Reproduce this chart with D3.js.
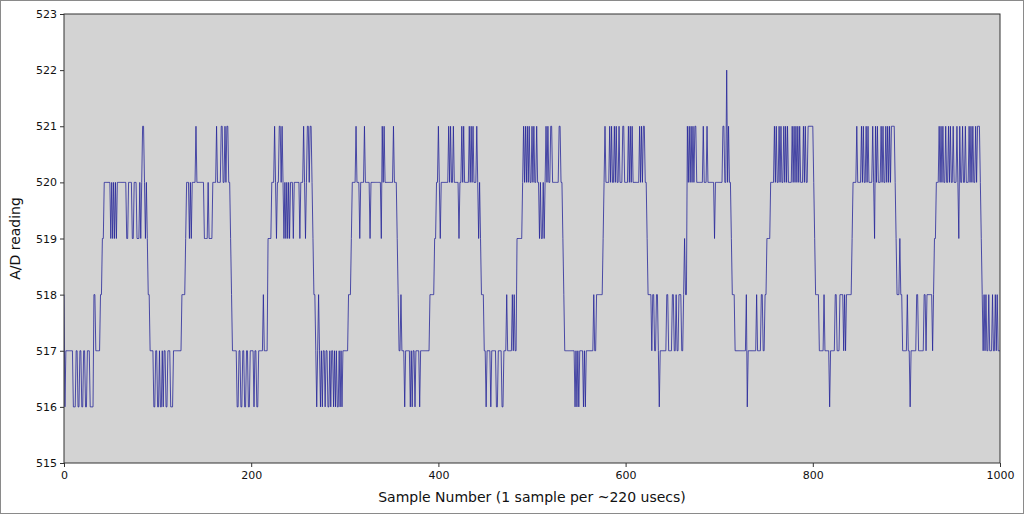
<!DOCTYPE html>
<html>
<head>
<meta charset="utf-8">
<script src="https://cdn.jsdelivr.net/npm/d3@7/dist/d3.min.js"></script>
<style>
  html, body { margin: 0; padding: 0; background: #fff; }
  svg { display: block; }
  text { font-family: "DejaVu Sans", sans-serif; }
</style>
</head>
<body>
<svg id="chart" width="1024" height="514"></svg>
<script>
// A/D readings as runs of [reading, number of consecutive samples]
const readingRuns = [
  [518,1],[516,1],[517,8],[516,3],[517,2],[516,2],[517,2],[516,2],[517,2],[516,2],[517,3],[516,4],
  [518,2],[517,5],[518,2],[519,2],[520,7],[519,1],[520,1],[519,1],[520,1],[519,1],[520,1],[519,1],
  [520,10],[519,2],[520,4],[519,2],[520,3],[519,3],[520,1],[519,1],[520,1],[521,2],[520,1],[519,1],
  [520,1],[519,1],[518,2],[517,4],[516,2],[517,2],[516,2],[517,1],[516,2],[517,1],[516,1],[517,2],
  [516,2],[517,3],[516,3],[517,9],[518,4],[519,1],[520,3],[519,1],[520,1],[519,1],[520,4],[521,1],
  [520,8],[519,4],[520,1],[519,4],[520,4],[521,1],[520,4],[521,2],[520,2],[521,1],[520,1],[521,2],
  [520,2],[519,1],[518,1],[517,5],[516,2],[517,2],[516,2],[517,2],[516,2],[517,2],[516,2],[517,4],
  [516,1],[517,2],[516,2],[517,5],[518,1],[517,4],[519,4],[520,3],[521,1],[520,1],[519,1],[520,2],
  [521,2],[520,1],[521,1],[520,1],[519,1],[520,1],[519,1],[520,1],[519,1],[520,1],[519,1],[520,3],
  [519,1],[520,6],[519,1],[520,3],[521,1],[520,1],[519,1],[520,1],[521,2],[520,1],[521,2],[520,1],
  [519,1],[518,2],[517,1],[516,1],[517,1],[518,1],[517,1],[516,1],[517,1],[516,1],[517,2],[516,1],
  [517,2],[516,2],[517,1],[516,1],[517,2],[516,1],[517,1],[516,1],[517,1],[516,2],[517,1],[516,1],
  [517,1],[516,1],[517,6],[518,3],[519,1],[520,4],[521,1],[520,3],[519,1],[520,4],[521,1],[520,5],
  [519,1],[520,11],[519,1],[521,1],[520,1],[521,1],[520,9],[521,1],[520,3],[519,1],[518,1],[517,2],
  [518,1],[517,3],[516,1],[517,5],[516,1],[517,1],[516,1],[517,2],[516,1],[517,4],[516,1],[517,10],
  [518,5],[519,2],[520,2],[521,1],[520,1],[519,1],[520,8],[521,1],[520,1],[521,1],[520,2],[521,1],
  [520,5],[519,1],[520,2],[521,1],[520,1],[521,1],[520,5],[521,1],[520,1],[521,1],[520,1],[521,1],
  [520,3],[521,1],[520,1],[519,1],[520,1],[519,1],[518,3],[517,2],[516,1],[517,4],[516,1],[517,5],
  [516,2],[517,4],[516,2],[517,3],[518,1],[517,5],[518,1],[517,1],[518,1],[517,2],[519,6],[520,1],
  [521,1],[520,1],[521,1],[520,1],[521,1],[520,1],[521,1],[520,2],[521,1],[520,1],[521,1],[520,2],
  [521,1],[520,2],[519,1],[520,1],[519,2],[520,1],[519,1],[520,1],[521,1],[520,1],[521,1],[520,2],
  [521,2],[520,7],[521,2],[520,2],[519,1],[518,1],[517,11],[516,1],[517,1],[516,1],[517,1],[516,1],
  [517,4],[516,1],[517,1],[516,1],[517,8],[518,1],[517,2],[518,7],[519,1],[520,1],[521,1],[520,4],
  [521,1],[520,1],[521,1],[520,2],[521,1],[520,1],[521,1],[520,2],[521,1],[520,3],[521,2],[520,4],
  [521,1],[520,1],[521,1],[520,1],[521,1],[520,7],[521,1],[520,1],[521,1],[520,1],[521,2],[520,2],
  [519,1],[518,4],[517,1],[518,2],[517,2],[518,2],[517,1],[516,1],[517,7],[518,2],[517,4],[518,2],
  [517,2],[518,1],[517,2],[518,3],[517,2],[518,1],[519,1],[518,2],[521,1],[520,1],[521,1],[520,1],
  [521,1],[520,1],[521,1],[520,1],[521,2],[520,7],[521,1],[520,3],[521,1],[520,7],[519,1],[520,8],
  [521,2],[520,2],[522,1],[520,1],[521,1],[520,2],[519,1],[518,3],[517,12],[518,1],[516,1],[517,9],
  [518,1],[517,4],[518,2],[517,2],[518,2],[519,4],[520,4],[521,1],[520,1],[521,1],[520,2],[521,1],
  [520,1],[521,1],[520,2],[521,1],[520,1],[521,1],[520,1],[521,1],[520,4],[521,1],[520,1],[521,1],
  [520,1],[521,1],[520,1],[521,1],[520,1],[521,1],[520,3],[521,1],[520,1],[521,1],[520,2],[521,6],
  [520,1],[519,1],[518,4],[517,5],[518,1],[517,5],[516,1],[517,5],[518,2],[517,3],[518,4],[517,1],
  [518,1],[517,1],[518,6],[519,1],[520,4],[521,1],[520,4],[521,1],[520,1],[521,1],[520,2],[521,1],
  [520,1],[521,1],[520,4],[521,1],[520,1],[519,1],[521,1],[520,1],[521,1],[520,3],[521,1],[520,1],
  [521,1],[520,2],[521,1],[520,1],[521,1],[520,1],[521,1],[520,1],[521,4],[520,1],[519,1],[518,3],
  [519,1],[518,2],[517,5],[518,1],[517,2],[516,1],[517,6],[518,2],[517,6],[518,2],[517,1],[518,6],
  [517,1],[518,1],[519,2],[520,3],[521,1],[520,1],[521,1],[520,1],[521,1],[520,2],[521,1],[520,2],
  [521,1],[520,1],[521,1],[520,2],[521,1],[520,3],[521,1],[520,1],[519,1],[521,1],[520,2],[521,1],
  [520,2],[521,1],[520,3],[521,1],[520,1],[521,1],[520,1],[521,1],[520,2],[521,1],[520,1],[521,3],
  [520,1],[519,1],[518,1],[517,1],[518,1],[517,1],[518,1],[517,2],[518,1],[517,3],[518,1],[517,2],
  [518,1],[517,1],[518,1],[517,3]
];
const xTicks = [0, 200, 400, 600, 800, 1000];
const yTicks = [515, 516, 517, 518, 519, 520, 521, 522, 523];
const xTitle = "Sample Number (1 sample per ~220 usecs)";
const yTitle = "A/D reading";

// expand runs into one reading per sample
const readings = [];
readingRuns.forEach(([v, n]) => { for (let k = 0; k < n; k++) readings.push(v); });
const samples = readings.map((v, i) => ({ i, v }));

const W = 1024, H = 514;
const m = { left: 64, right: 24, top: 14, bottom: 51 };
const svg = d3.select("#chart");

// outer frame
svg.append("rect").attr("x", 0.5).attr("y", 0.5).attr("width", W - 1).attr("height", H - 1)
  .attr("fill", "#fff").attr("stroke", "#8a8a8a");

const x = d3.scaleLinear().domain([0, 1000]).range([m.left, W - m.right]);
const y = d3.scaleLinear().domain([515, 523]).range([H - m.bottom, m.top]);

svg.append("rect")
  .attr("x", x(0)).attr("y", y(523))
  .attr("width", x(1000) - x(0)).attr("height", y(515) - y(523))
  .attr("fill", "#d3d3d3");

const clipId = "plotclip";
svg.append("clipPath").attr("id", clipId).append("rect")
  .attr("x", x(0)).attr("y", y(523))
  .attr("width", x(1000) - x(0)).attr("height", y(515) - y(523));

const line = d3.line().x(d => x(d.i)).y(d => y(d.v));
svg.append("path").datum(samples)
  .attr("clip-path", `url(#${clipId})`)
  .attr("d", line)
  .attr("fill", "none")
  .attr("stroke", "#262699")
  .attr("stroke-width", 0.8)
  .attr("stroke-linejoin", "miter");

const xAxis = svg.append("g").attr("transform", `translate(0,${y(515)})`)
  .call(d3.axisBottom(x).tickValues(xTicks).tickSize(4).tickPadding(4).tickFormat(d3.format("d")));
const yAxis = svg.append("g").attr("transform", `translate(${x(0)},0)`)
  .call(d3.axisLeft(y).tickValues(yTicks).tickSize(4).tickPadding(3).tickFormat(d3.format("d")));
[xAxis, yAxis].forEach(g => {
  g.select(".domain").remove();
  g.selectAll("line").attr("stroke", "#333");
  g.selectAll("text").attr("font-family", "DejaVu Sans").attr("font-size", 11).attr("fill", "#111");
});

// plot border
svg.append("rect")
  .attr("x", x(0)).attr("y", y(523))
  .attr("width", x(1000) - x(0)).attr("height", y(515) - y(523))
  .attr("fill", "none").attr("stroke", "#333").attr("stroke-width", 1);

svg.append("text")
  .attr("x", (x(0) + x(1000)) / 2).attr("y", 502)
  .attr("text-anchor", "middle").attr("font-size", 14).attr("fill", "#111")
  .text(xTitle);
svg.append("text")
  .attr("transform", `translate(20,${(y(515) + y(523)) / 2}) rotate(-90)`)
  .attr("text-anchor", "middle").attr("font-size", 14).attr("fill", "#111")
  .text(yTitle);
</script>
</body>
</html>
